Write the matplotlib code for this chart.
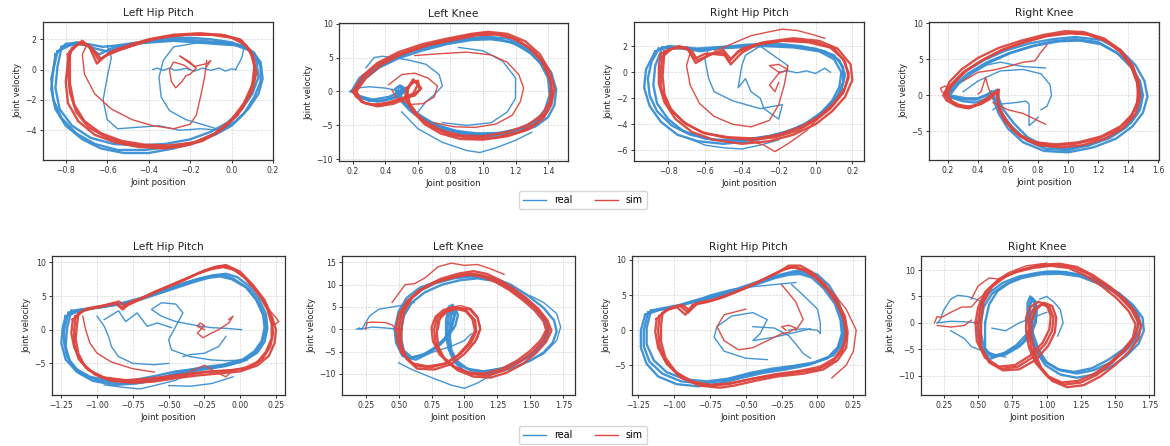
import matplotlib
matplotlib.use("Agg")
import matplotlib.pyplot as plt
from matplotlib.lines import Line2D
from matplotlib.ticker import MultipleLocator

# ---------------- data (position vs velocity) -------------
titles = ["Left Hip Pitch", "Left Knee", "Right Hip Pitch", "Right Knee",
          "Left Hip Pitch", "Left Knee", "Right Hip Pitch", "Right Knee"]
series_labels = ["real", "sim"]
x_label = "Joint position"
y_label = "Joint velocity"

# ---- Row 1, Left Hip Pitch
r1_lhp_real = [
    [(-0.84,1.2),(-0.78,1.6),(-0.70,1.7),(-0.62,1.5),(-0.55,1.6),(-0.45,1.8),(-0.35,1.9),(-0.25,2.0),(-0.15,1.9),(-0.05,1.8),(0.05,1.6),(0.11,1.1),(0.14,0.2),(0.14,-0.8),(0.11,-1.8),(0.06,-2.9),(0.0,-3.7),(-0.08,-4.3),(-0.18,-4.8),(-0.3,-5.1),(-0.42,-5.3),(-0.55,-5.3),(-0.66,-4.9),(-0.75,-4.2),(-0.82,-3.2),(-0.86,-2.0),(-0.87,-0.6),(-0.85,0.6),(-0.84,1.2)],
    [(-0.82,1.5),(-0.75,1.8),(-0.66,1.4),(-0.6,1.2),(-0.5,1.5),(-0.4,1.9),(-0.3,2.1),(-0.2,2.1),(-0.1,2.0),(0.0,1.8),(0.08,1.4),(0.12,0.6),(0.13,-0.5),(0.10,-1.6),(0.05,-2.6),(-0.02,-3.5),(-0.1,-4.1),(-0.2,-4.6),(-0.32,-4.9),(-0.45,-5.0),(-0.57,-4.9),(-0.68,-4.5),(-0.77,-3.7),(-0.83,-2.6),(-0.85,-1.2),(-0.84,0.2),(-0.82,1.5)],
    [(-0.85,1.0),(-0.8,1.7),(-0.72,1.8),(-0.64,1.0),(-0.58,1.4),(-0.48,1.7),(-0.38,1.8),(-0.28,1.9),(-0.18,1.8),(-0.08,1.7),(0.02,1.6),(0.1,1.2),(0.14,0.5),(0.15,-0.6),(0.13,-1.6),(0.08,-2.6),(0.02,-3.4),(-0.06,-4.1),(-0.16,-4.7),(-0.28,-5.2),(-0.4,-5.5),(-0.52,-5.5),(-0.63,-5.2),(-0.72,-4.6),(-0.8,-3.7),(-0.85,-2.6),(-0.87,-1.3),(-0.86,0.0),(-0.85,1.0)],
    [(-0.38,0.0),(-0.36,0.1),(-0.33,-0.05),(-0.3,0.1),(-0.27,-0.05),(-0.22,0.08),(-0.18,-0.1),(-0.14,0.1),(-0.1,-0.05),(-0.06,0.1),(-0.03,-0.1),(0.0,0.05),(0.02,0.0)],
    [(0.02,0.0),(0.05,0.8),(0.06,1.5),(0.0,1.7),(-0.15,1.8),(-0.28,1.5),(-0.33,0.6),(-0.35,-0.5),(-0.34,-1.8),(-0.3,-2.7),(-0.22,-3.3),(-0.12,-3.7),(-0.05,-4.0),(-0.15,-3.9),(-0.25,-4.0),(-0.35,-3.7),(-0.45,-3.8),(-0.55,-3.9),(-0.6,-3.3),(-0.62,-2.0),(-0.6,-0.5),(-0.58,0.8),(-0.6,1.6)],
]
r1_lhp_sim = [
    [(-0.78,1.2),(-0.73,1.8),(-0.68,1.5),(-0.64,0.6),(-0.6,1.0),(-0.52,1.4),(-0.42,1.9),(-0.3,2.2),(-0.18,2.35),(-0.05,2.3),(0.04,2.0),(0.09,1.3),(0.11,0.2),(0.1,-1.0),(0.06,-2.2),(0.0,-3.3),(-0.08,-4.2),(-0.18,-4.8),(-0.3,-5.0),(-0.42,-4.95),(-0.53,-4.7),(-0.63,-4.2),(-0.71,-3.4),(-0.76,-2.3),(-0.78,-0.9),(-0.78,0.3),(-0.78,1.2)],
    [(-0.77,1.4),(-0.72,1.9),(-0.66,1.2),(-0.63,0.7),(-0.58,1.2),(-0.5,1.6),(-0.4,2.0),(-0.28,2.3),(-0.15,2.4),(-0.03,2.25),(0.05,1.9),(0.1,1.0),(0.12,-0.2),(0.1,-1.4),(0.05,-2.6),(-0.02,-3.6),(-0.1,-4.4),(-0.2,-4.95),(-0.32,-5.2),(-0.45,-5.1),(-0.56,-4.8),(-0.66,-4.3),(-0.74,-3.4),(-0.79,-2.2),(-0.8,-0.8),(-0.79,0.5),(-0.77,1.4)],
    [(-0.79,1.0),(-0.74,1.7),(-0.69,1.6),(-0.65,0.4),(-0.61,0.9),(-0.54,1.3),(-0.45,1.7),(-0.35,2.1),(-0.22,2.3),(-0.1,2.3),(0.0,2.1),(0.07,1.6),(0.11,0.6),(0.11,-0.6),(0.08,-1.8),(0.03,-3.0),(-0.05,-4.0),(-0.14,-4.7),(-0.25,-5.1),(-0.38,-5.1),(-0.5,-4.9),(-0.6,-4.5),(-0.69,-3.8),(-0.75,-2.8),(-0.78,-1.5),(-0.79,-0.2),(-0.79,1.0)],
    [(-0.2,0.0),(-0.23,0.3),(-0.28,0.5),(-0.3,0.0),(-0.29,-0.8),(-0.27,-1.2),(-0.24,-0.8),(-0.22,-0.4),(-0.2,-0.3),(-0.17,0.1),(-0.2,0.5),(-0.25,0.9),(-0.22,0.6),(-0.18,0.2),(-0.12,0.4),(-0.1,0.6),(-0.12,0.2)],
    [(-0.12,0.6),(-0.13,-0.5),(-0.15,-1.8),(-0.17,-3.0),(-0.2,-3.6),(-0.28,-3.9),(-0.38,-3.7),(-0.48,-3.3),(-0.58,-2.6),(-0.66,-1.6),(-0.71,-0.3),(-0.72,1.0),(-0.7,1.6)],
]

# ---- Row 1, Left Knee
r1_lk_real = [
    [(0.2,0.0),(0.25,1.5),(0.32,3.0),(0.42,4.5),(0.55,5.8),(0.7,6.8),(0.85,7.5),(1.0,7.9),(1.1,7.7),(1.2,7.0),(1.3,5.5),(1.38,3.5),(1.42,1.0),(1.42,-1.5),(1.38,-3.5),(1.3,-5.0),(1.2,-5.8),(1.05,-6.3),(0.9,-6.2),(0.75,-5.3),(0.62,-3.8),(0.53,-2.2),(0.48,-0.8),(0.48,0.5),(0.5,0.8),(0.52,0.0),(0.45,-1.0),(0.35,-1.5),(0.25,-1.0),(0.2,0.0)],
    [(0.19,0.0),(0.24,2.0),(0.33,3.6),(0.45,5.0),(0.6,6.3),(0.75,7.2),(0.9,7.8),(1.02,8.1),(1.15,7.8),(1.25,6.8),(1.35,5.0),(1.42,2.8),(1.45,0.3),(1.44,-2.0),(1.4,-3.8),(1.32,-5.2),(1.2,-6.1),(1.05,-6.6),(0.9,-6.4),(0.75,-5.6),(0.63,-4.3),(0.55,-2.8),(0.5,-1.5),(0.47,-0.5),(0.46,0.4),(0.49,0.9),(0.51,0.2),(0.42,-0.8),(0.32,-1.2),(0.23,-0.6),(0.19,0.0)],
    [(0.21,0.0),(0.27,1.8),(0.36,3.5),(0.48,4.9),(0.62,6.0),(0.78,7.0),(0.93,7.6),(1.05,7.7),(1.17,7.3),(1.27,6.2),(1.35,4.3),(1.4,2.0),(1.41,-0.5),(1.38,-2.8),(1.32,-4.4),(1.22,-5.5),(1.1,-6.1),(0.97,-6.2),(0.83,-5.8),(0.7,-4.8),(0.6,-3.3),(0.52,-1.8),(0.49,-0.4),(0.5,0.6),(0.53,0.5),(0.5,-0.4),(0.4,-1.3),(0.3,-1.4),(0.24,-0.7),(0.21,0.0)],
    [(0.5,-3.0),(0.6,-5.5),(0.75,-7.5),(0.9,-8.7),(0.98,-9.0),(1.08,-8.3),(1.2,-7.2),(1.3,-6.0)],
    [(0.18,0.0),(0.22,0.5),(0.3,0.7),(0.4,0.5),(0.5,0.0)],
    [(0.28,3.5),(0.33,5.0),(0.38,5.2),(0.45,5.0),(0.55,4.6),(0.65,4.0),(0.73,2.5),(0.75,0.8),(0.7,-0.5),(0.65,-1.5),(0.6,-3.0)],
    [(0.85,6.5),(1.0,6.0),(1.12,4.5),(1.2,2.0),(1.2,-1.0),(1.15,-3.0),(1.05,-4.6),(0.9,-5.0),(0.75,-4.6)],
]
r1_lk_sim = [
    [(0.21,0.0),(0.25,1.8),(0.33,3.6),(0.45,5.2),(0.6,6.5),(0.75,7.5),(0.9,8.2),(1.0,8.6),(1.12,8.4),(1.22,7.5),(1.32,5.8),(1.39,3.5),(1.42,1.0),(1.41,-1.5),(1.36,-3.5),(1.27,-5.0),(1.15,-6.0),(1.0,-6.6),(0.87,-6.5),(0.75,-5.8),(0.63,-4.2),(0.56,-2.5),(0.52,-1.0),(0.53,0.5),(0.58,1.5),(0.62,0.5),(0.58,-0.6),(0.5,-1.0),(0.42,-1.6),(0.32,-2.0),(0.25,-1.5),(0.21,0.0)],
    [(0.2,0.0),(0.26,2.3),(0.35,4.2),(0.48,5.8),(0.63,7.0),(0.78,7.8),(0.93,8.5),(1.03,8.8),(1.15,8.5),(1.26,7.4),(1.35,5.5),(1.41,3.0),(1.44,0.5),(1.42,-2.0),(1.37,-4.0),(1.28,-5.6),(1.15,-6.6),(1.0,-7.1),(0.86,-7.0),(0.74,-6.2),(0.64,-4.8),(0.57,-3.0),(0.53,-1.2),(0.54,0.6),(0.57,1.8),(0.6,1.0),(0.57,-0.3),(0.48,-1.3),(0.38,-2.0),(0.28,-1.8),(0.22,-0.8),(0.2,0.0)],
    [(0.22,0.0),(0.28,2.0),(0.38,4.0),(0.5,5.5),(0.66,6.8),(0.82,7.6),(0.96,8.3),(1.08,8.4),(1.18,7.9),(1.28,6.5),(1.36,4.5),(1.41,2.0),(1.43,-0.5),(1.4,-2.8),(1.33,-4.7),(1.22,-6.0),(1.08,-6.8),(0.94,-6.9),(0.8,-6.4),(0.68,-5.2),(0.6,-3.5),(0.55,-1.8),(0.53,0.0),(0.56,1.3),(0.6,1.6),(0.61,0.2),(0.55,-0.8),(0.45,-1.8),(0.35,-2.2),(0.26,-1.6),(0.22,0.0)],
    [(0.58,5.3),(0.75,5.6),(0.9,5.8),(1.05,5.4),(1.15,4.3),(1.22,2.5),(1.25,0.5),(1.23,-1.5),(1.18,-3.5),(1.08,-4.8),(0.95,-5.3),(0.82,-5.2),(0.7,-4.6)],
    [(0.42,1.0),(0.5,2.5),(0.58,2.7),(0.66,2.0),(0.72,0.8),(0.7,-0.8),(0.63,-1.8),(0.55,-1.9),(0.47,-1.0),(0.44,0.2)],
]

# ---- Row 1, Right Hip Pitch
r1_rhp_real = [
    [(-0.85,1.8),(-0.75,1.9),(-0.65,1.8),(-0.55,1.9),(-0.45,2.0),(-0.3,2.1),(-0.15,2.0),(0.0,1.8),(0.1,1.3),(0.15,0.4),(0.15,-0.8),(0.12,-1.8),(0.06,-2.8),(-0.02,-3.7),(-0.12,-4.4),(-0.25,-4.9),(-0.4,-5.2),(-0.55,-5.2),(-0.68,-4.8),(-0.78,-4.1),(-0.86,-3.0),(-0.9,-1.8),(-0.91,-0.5),(-0.89,0.8),(-0.85,1.8)],
    [(-0.87,1.6),(-0.8,2.0),(-0.7,1.9),(-0.6,1.7),(-0.5,1.9),(-0.38,2.1),(-0.22,2.2),(-0.08,2.0),(0.05,1.6),(0.13,0.9),(0.16,-0.2),(0.14,-1.4),(0.09,-2.5),(0.02,-3.4),(-0.08,-4.2),(-0.2,-4.8),(-0.35,-5.3),(-0.5,-5.5),(-0.64,-5.3),(-0.75,-4.8),(-0.84,-3.8),(-0.9,-2.6),(-0.93,-1.2),(-0.92,0.2),(-0.87,1.6)],
    [(-0.83,1.9),(-0.72,1.8),(-0.62,1.6),(-0.55,1.8),(-0.42,1.9),(-0.28,2.0),(-0.12,1.9),(0.02,1.6),(0.1,1.0),(0.14,0.0),(0.13,-1.1),(0.09,-2.2),(0.03,-3.1),(-0.06,-4.0),(-0.18,-4.7),(-0.32,-5.1),(-0.46,-5.3),(-0.6,-5.1),(-0.72,-4.5),(-0.8,-3.6),(-0.86,-2.4),(-0.88,-1.0),(-0.87,0.5),(-0.83,1.9)],
    [(-0.7,-5.0),(-0.6,-5.6),(-0.5,-5.8),(-0.4,-5.9),(-0.3,-5.6),(-0.2,-5.2)],
    [(0.08,0.0),(0.05,0.3),(0.0,-0.1),(-0.05,0.1),(-0.1,-0.05),(-0.15,0.1),(-0.2,0.0)],
    [(-0.15,0.5),(-0.25,1.5),(-0.3,2.0),(-0.38,1.3),(-0.4,0.5),(-0.42,-1.2),(-0.38,-0.5),(-0.35,-1.5),(-0.3,-2.0),(-0.28,-2.8),(-0.2,-3.6),(-0.18,-2.5),(-0.3,-2.8),(-0.45,-2.2),(-0.55,-1.5),(-0.58,-0.5),(-0.6,1.0),(-0.58,1.8)],
]
r1_rhp_sim = [
    [(-0.83,1.2),(-0.78,1.8),(-0.7,1.9),(-0.66,1.0),(-0.6,1.4),(-0.5,1.5),(-0.47,0.8),(-0.42,1.6),(-0.3,2.2),(-0.15,2.5),(0.0,2.3),(0.1,1.8),(0.16,0.8),(0.18,-0.4),(0.15,-1.6),(0.08,-2.8),(0.0,-3.7),(-0.1,-4.5),(-0.22,-5.0),(-0.35,-5.2),(-0.5,-5.0),(-0.62,-4.6),(-0.72,-3.8),(-0.8,-2.6),(-0.84,-1.2),(-0.84,0.2),(-0.83,1.2)],
    [(-0.84,1.4),(-0.76,1.9),(-0.69,1.8),(-0.65,0.7),(-0.58,1.3),(-0.5,1.7),(-0.46,1.0),(-0.4,1.8),(-0.28,2.3),(-0.12,2.6),(0.02,2.4),(0.12,1.8),(0.19,0.6),(0.2,-0.6),(0.16,-1.9),(0.09,-3.0),(0.0,-4.0),(-0.12,-4.8),(-0.25,-5.3),(-0.4,-5.5),(-0.55,-5.2),(-0.67,-4.6),(-0.76,-3.6),(-0.82,-2.3),(-0.85,-0.9),(-0.85,0.5),(-0.84,1.4)],
    [(-0.82,1.6),(-0.74,2.0),(-0.67,1.6),(-0.64,0.9),(-0.56,1.4),(-0.49,1.3),(-0.46,0.6),(-0.4,1.5),(-0.32,2.1),(-0.18,2.4),(-0.04,2.3),(0.08,1.9),(0.15,1.0),(0.18,-0.1),(0.16,-1.2),(0.1,-2.4),(0.02,-3.4),(-0.08,-4.2),(-0.2,-4.8),(-0.32,-5.1),(-0.47,-5.0),(-0.6,-4.7),(-0.7,-4.0),(-0.78,-3.0),(-0.82,-1.7),(-0.83,-0.3),(-0.82,1.6)],
    [(-0.55,1.6),(-0.45,2.2),(-0.35,2.8),(-0.25,3.1),(-0.18,3.3),(-0.1,3.2),(-0.02,2.9),(0.05,2.6)],
    [(0.05,-3.0),(-0.05,-4.5),(-0.15,-5.5),(-0.22,-6.1),(-0.28,-5.6),(-0.35,-5.3)],
    [(-0.2,0.0),(-0.25,0.5),(-0.2,0.6),(-0.15,0.2),(-0.2,-0.1),(-0.25,-1.0),(-0.22,-1.5),(-0.2,-0.8)],
    [(-0.15,0.5),(-0.17,-1.0),(-0.2,-2.5),(-0.25,-3.7),(-0.35,-4.2),(-0.45,-4.0),(-0.55,-3.4),(-0.63,-2.4),(-0.68,-1.0),(-0.7,0.5),(-0.68,1.5)],
]

# ---- Row 1, Right Knee
r1_rk_real = [
    [(0.2,0.0),(0.25,1.5),(0.33,3.0),(0.45,4.5),(0.6,5.8),(0.75,6.8),(0.9,7.5),(1.05,7.8),(1.2,7.4),(1.32,6.0),(1.42,4.0),(1.48,2.0),(1.5,0.0),(1.48,-2.0),(1.42,-3.8),(1.3,-5.5),(1.15,-6.8),(1.0,-7.6),(0.85,-7.4),(0.72,-6.2),(0.62,-4.2),(0.55,-2.3),(0.52,-0.8),(0.5,0.3),(0.45,-0.5),(0.38,-1.0),(0.3,-0.8),(0.22,-0.3),(0.2,0.0)],
    [(0.19,0.0),(0.24,1.8),(0.32,3.4),(0.44,4.9),(0.58,6.2),(0.74,7.2),(0.9,7.8),(1.05,8.1),(1.22,7.7),(1.35,6.3),(1.45,4.2),(1.51,2.0),(1.53,-0.2),(1.5,-2.4),(1.43,-4.3),(1.32,-6.0),(1.17,-7.2),(1.0,-7.9),(0.84,-7.7),(0.7,-6.5),(0.6,-4.6),(0.54,-2.6),(0.51,-1.0),(0.49,0.6),(0.46,0.0),(0.38,-0.6),(0.28,-0.5),(0.21,-0.2),(0.19,0.0)],
    [(0.21,0.0),(0.27,1.6),(0.36,3.1),(0.48,4.6),(0.62,5.9),(0.78,6.9),(0.94,7.5),(1.08,7.6),(1.22,7.1),(1.34,5.7),(1.43,3.7),(1.48,1.5),(1.49,-0.6),(1.46,-2.6),(1.39,-4.4),(1.28,-5.9),(1.13,-7.0),(0.98,-7.4),(0.84,-7.0),(0.73,-5.8),(0.64,-3.9),(0.57,-2.0),(0.54,-0.5),(0.53,0.8),(0.48,0.3),(0.4,-0.4),(0.32,-0.4),(0.24,-0.1),(0.21,0.0)],
    [(0.3,0.5),(0.4,2.0),(0.55,3.4),(0.7,3.6),(0.82,3.0),(0.88,1.5),(0.89,0.0),(0.86,-1.5),(0.82,-2.0)],
    [(0.5,-2.0),(0.55,-1.2),(0.65,-1.0),(0.72,-0.8),(0.74,-1.2),(0.74,-4.2),(0.78,-3.5),(0.8,-3.0)],
    [(0.35,3.0),(0.45,4.2),(0.55,4.6),(0.7,4.0),(0.85,3.8)],
]
r1_rk_sim = [
    [(0.18,0.3),(0.22,1.5),(0.3,3.2),(0.42,4.8),(0.55,6.2),(0.7,7.3),(0.85,8.2),(1.0,8.6),(1.12,8.5),(1.25,7.6),(1.35,6.0),(1.42,4.0),(1.46,1.8),(1.47,-0.5),(1.43,-2.6),(1.35,-4.3),(1.22,-5.7),(1.07,-6.5),(0.92,-6.8),(0.78,-6.5),(0.66,-5.3),(0.58,-3.6),(0.54,-2.0),(0.53,-0.5),(0.52,0.5),(0.48,-0.5),(0.42,-1.2),(0.35,-1.6),(0.27,-1.3),(0.2,-0.5),(0.18,0.3)],
    [(0.17,0.0),(0.21,1.9),(0.29,3.6),(0.4,5.2),(0.54,6.6),(0.69,7.6),(0.84,8.4),(0.98,8.9),(1.1,8.8),(1.24,7.9),(1.35,6.3),(1.43,4.2),(1.47,2.0),(1.48,-0.3),(1.45,-2.6),(1.37,-4.5),(1.25,-6.0),(1.1,-6.9),(0.95,-7.2),(0.8,-6.9),(0.68,-5.7),(0.6,-3.8),(0.55,-2.1),(0.53,-0.6),(0.54,0.8),(0.5,0.2),(0.43,-1.0),(0.34,-1.8),(0.26,-1.5),(0.19,-0.7),(0.17,0.0)],
    [(0.19,0.5),(0.24,1.7),(0.32,3.4),(0.44,5.0),(0.57,6.4),(0.72,7.5),(0.87,8.3),(1.02,8.7),(1.15,8.4),(1.27,7.4),(1.37,5.7),(1.44,3.6),(1.47,1.2),(1.46,-1.2),(1.41,-3.3),(1.32,-4.9),(1.19,-6.1),(1.03,-6.8),(0.88,-6.9),(0.74,-6.3),(0.63,-4.8),(0.57,-3.0),(0.54,-1.4),(0.53,0.1),(0.51,0.4),(0.46,-0.4),(0.39,-1.3),(0.31,-1.7),(0.23,-1.1),(0.19,0.5)],
    [(0.2,0.0),(0.16,0.5),(0.15,1.0),(0.18,1.3),(0.22,0.8),(0.2,0.0)],
    [(0.3,2.0),(0.4,3.2),(0.5,3.5),(0.6,4.0),(0.7,4.6),(0.78,4.8),(0.82,6.0),(0.86,7.0)],
    [(0.4,0.2),(0.42,0.5),(0.45,2.5),(0.47,1.0),(0.5,-0.5)],
    [(0.5,-1.0),(0.6,-2.0),(0.7,-2.5),(0.8,-3.5),(0.85,-4.0)],
]

# ---- Row 2, Left Hip Pitch
r2_lhp_real = [
    [(-1.2,2.5),(-1.1,3.0),(-1.0,3.3),(-0.9,3.6),(-0.8,4.0),(-0.7,4.6),(-0.6,5.3),(-0.5,6.0),(-0.4,6.8),(-0.3,7.5),(-0.2,8.0),(-0.12,8.1),(-0.05,7.6),(0.05,6.2),(0.12,4.3),(0.17,2.0),(0.18,0.0),(0.15,-2.0),(0.1,-3.5),(0.0,-4.8),(-0.15,-5.5),(-0.3,-5.8),(-0.45,-6.2),(-0.6,-6.9),(-0.75,-7.5),(-0.9,-7.6),(-1.05,-7.0),(-1.15,-5.8),(-1.21,-4.0),(-1.23,-2.0),(-1.23,0.0),(-1.2,2.5)],
    [(-1.22,2.0),(-1.12,2.8),(-1.02,3.2),(-0.92,3.5),(-0.82,3.8),(-0.72,4.3),(-0.62,5.0),(-0.52,5.7),(-0.42,6.4),(-0.32,7.1),(-0.22,7.7),(-0.14,7.9),(-0.06,7.5),(0.04,6.3),(0.11,4.5),(0.16,2.2),(0.17,0.3),(0.15,-1.7),(0.1,-3.2),(0.02,-4.4),(-0.12,-5.2),(-0.27,-5.6),(-0.42,-6.3),(-0.58,-7.3),(-0.73,-8.0),(-0.88,-8.2),(-1.03,-7.6),(-1.14,-6.3),(-1.22,-4.4),(-1.25,-2.0),(-1.24,0.3),(-1.22,2.0)],
    [(-1.18,2.8),(-1.08,3.1),(-0.98,3.3),(-0.88,3.7),(-0.78,4.2),(-0.68,4.8),(-0.58,5.5),(-0.48,6.3),(-0.38,7.0),(-0.28,7.6),(-0.18,8.1),(-0.1,8.3),(-0.02,7.8),(0.06,6.5),(0.13,4.6),(0.18,2.3),(0.19,0.2),(0.17,-1.8),(0.12,-3.4),(0.03,-4.6),(-0.1,-5.4),(-0.25,-5.9),(-0.4,-6.4),(-0.55,-7.3),(-0.7,-7.9),(-0.85,-8.0),(-1.0,-7.5),(-1.12,-6.4),(-1.19,-4.7),(-1.22,-2.5),(-1.21,0.2),(-1.18,2.8)],
    [(-0.3,-6.0),(-0.45,-7.5),(-0.6,-8.3),(-0.7,-8.8),(-0.8,-8.6),(-0.95,-8.2)],
    [(-0.05,-7.0),(-0.2,-8.0),(-0.35,-8.4),(-0.5,-8.3)],
    [(0.01,0.0),(-0.1,0.2),(-0.2,0.3),(-0.3,0.6),(-0.45,1.2),(-0.55,2.0),(-0.62,3.0),(-0.55,4.0),(-0.45,3.8),(-0.4,2.5),(-0.45,0.5),(-0.5,-1.5),(-0.48,-3.0),(-0.35,-4.0),(-0.2,-4.5),(-0.1,-4.6),(0.05,-4.5)],
    [(-0.1,-1.0),(-0.15,-2.5),(-0.25,-3.5),(-0.35,-3.7),(-0.4,-4.0)],
    [(-1.0,2.0),(-0.95,0.5),(-0.92,-1.0),(-0.9,-2.5),(-0.85,-4.0),(-0.75,-5.0),(-0.6,-5.2),(-0.5,-5.0)],
    [(-0.95,1.5),(-0.85,2.8),(-0.8,1.2),(-0.72,2.5),(-0.65,0.5),(-0.58,1.0),(-0.48,0.3)],
]
r2_lhp_sim = [
    [(-1.15,2.0),(-1.08,3.0),(-1.0,3.4),(-0.9,3.8),(-0.85,4.2),(-0.8,3.5),(-0.75,4.0),(-0.65,5.0),(-0.55,6.0),(-0.45,6.8),(-0.35,7.8),(-0.25,8.8),(-0.15,9.4),(-0.07,9.2),(0.02,8.0),(0.1,6.0),(0.18,3.8),(0.22,1.5),(0.23,-0.5),(0.21,-2.5),(0.16,-4.2),(0.08,-5.5),(-0.05,-6.0),(-0.2,-6.2),(-0.35,-6.5),(-0.5,-6.9),(-0.65,-7.3),(-0.8,-7.5),(-0.95,-7.1),(-1.06,-6.0),(-1.13,-4.3),(-1.16,-2.2),(-1.16,0.0),(-1.15,2.0)],
    [(-1.17,1.5),(-1.1,2.8),(-1.02,3.2),(-0.93,3.6),(-0.87,3.9),(-0.82,3.0),(-0.78,3.8),(-0.68,4.7),(-0.58,5.7),(-0.48,6.6),(-0.38,7.5),(-0.28,8.5),(-0.18,9.3),(-0.1,9.6),(0.0,8.6),(0.09,6.6),(0.17,4.4),(0.22,2.0),(0.25,0.0),(0.24,-2.0),(0.2,-3.9),(0.12,-5.3),(0.0,-6.2),(-0.15,-6.5),(-0.3,-6.8),(-0.45,-7.2),(-0.6,-7.7),(-0.75,-7.9),(-0.9,-7.6),(-1.02,-6.6),(-1.11,-4.8),(-1.16,-2.6),(-1.18,-0.5),(-1.17,1.5)],
    [(-1.13,2.4),(-1.06,3.2),(-0.97,3.5),(-0.88,4.0),(-0.83,3.3),(-0.77,4.1),(-0.7,4.6),(-0.6,5.6),(-0.5,6.5),(-0.4,7.4),(-0.3,8.3),(-0.2,9.0),(-0.12,9.3),(-0.04,8.9),(0.05,7.4),(0.13,5.3),(0.19,3.0),(0.22,0.8),(0.22,-1.3),(0.18,-3.3),(0.12,-4.8),(0.02,-5.8),(-0.1,-6.1),(-0.25,-6.3),(-0.4,-6.8),(-0.55,-7.3),(-0.7,-7.6),(-0.85,-7.6),(-0.98,-7.0),(-1.08,-5.6),(-1.13,-3.6),(-1.15,-1.4),(-1.14,0.8),(-1.13,2.4)],
    [(-0.25,0.0),(-0.3,0.5),(-0.28,1.0),(-0.25,0.6),(-0.3,-0.5),(-0.26,-1.2),(-0.2,-0.5),(-0.15,0.0),(-0.08,1.0),(-0.05,2.0),(-0.08,1.5)],
    [(-1.1,2.0),(-1.08,0.0),(-1.05,-2.0),(-1.0,-3.5),(-0.9,-4.8),(-0.75,-5.8),(-0.6,-6.3)],
    [(-0.35,-6.2),(-0.25,-5.3),(-0.15,-6.5),(-0.1,-7.0),(-0.05,-6.0)],
    [(0.2,3.0),(0.25,1.8),(0.27,1.2),(0.22,0.5)],
]

# ---- Row 2, Left Knee
r2_lk_real = [
    [(0.5,0.0),(0.52,3.5),(0.57,6.3),(0.66,8.6),(0.78,10.3),(0.92,11.4),(1.05,11.8),(1.18,11.4),(1.3,10.0),(1.42,7.8),(1.52,5.2),(1.6,2.5),(1.63,0.0),(1.6,-2.5),(1.53,-5.0),(1.43,-7.0),(1.3,-8.6),(1.17,-9.5),(1.05,-9.2),(0.95,-7.8),(0.9,-5.5),(0.88,-3.0),(0.87,0.0),(0.88,3.0),(0.9,4.5),(0.92,3.0),(0.9,0.5),(0.85,-2.0),(0.78,-4.0),(0.68,-5.8),(0.58,-6.5),(0.52,-4.5),(0.5,-2.0),(0.5,0.0)],
    [(0.47,0.0),(0.5,4.0),(0.56,7.0),(0.66,9.3),(0.8,10.8),(0.95,11.8),(1.08,12.1),(1.22,11.5),(1.35,10.0),(1.48,7.6),(1.6,4.8),(1.68,2.0),(1.7,-0.5),(1.67,-3.0),(1.6,-5.2),(1.5,-7.0),(1.38,-8.5),(1.25,-9.6),(1.12,-10.2),(1.0,-9.4),(0.92,-7.2),(0.88,-4.5),(0.86,-1.5),(0.86,2.0),(0.88,5.0),(0.91,5.5),(0.93,3.5),(0.9,0.0),(0.83,-3.0),(0.74,-5.2),(0.63,-6.8),(0.53,-6.0),(0.48,-3.0),(0.47,0.0)],
    [(0.52,0.0),(0.54,3.0),(0.6,6.0),(0.7,8.3),(0.83,10.0),(0.97,11.0),(1.1,11.4),(1.23,10.8),(1.35,9.2),(1.46,7.0),(1.55,4.4),(1.62,1.8),(1.64,-0.8),(1.6,-3.3),(1.52,-5.6),(1.41,-7.4),(1.28,-8.8),(1.14,-9.4),(1.02,-8.8),(0.94,-7.0),(0.9,-4.6),(0.89,-2.0),(0.89,1.0),(0.9,3.5),(0.93,4.8),(0.95,3.2),(0.93,0.8),(0.87,-1.8),(0.8,-3.8),(0.7,-5.5),(0.6,-6.3),(0.54,-4.8),(0.52,-2.2),(0.52,0.0)],
    [(1.5,7.5),(1.6,6.0),(1.7,3.5),(1.73,0.5),(1.7,-2.5),(1.6,-5.5),(1.5,-7.0)],
    [(1.25,-9.5),(1.1,-12.0),(1.0,-13.2),(0.9,-12.5),(0.75,-10.8),(0.6,-9.0),(0.5,-7.5)],
    [(0.18,0.0),(0.2,0.3),(0.22,0.0),(0.28,3.0),(0.35,4.5),(0.45,5.0),(0.55,5.5),(0.62,6.0)],
    [(0.2,0.0),(0.3,0.5),(0.4,0.3),(0.5,0.0)],
    [(0.6,-6.5),(0.75,-5.2),(0.9,-3.8),(1.0,-2.5),(1.05,-1.0)],
]
r2_lk_sim = [
    [(0.5,0.0),(0.52,3.5),(0.58,6.5),(0.68,9.0),(0.8,10.8),(0.95,12.0),(1.05,12.5),(1.15,12.0),(1.25,10.8),(1.35,9.0),(1.45,6.8),(1.55,4.5),(1.62,2.0),(1.64,0.0),(1.6,-2.5),(1.52,-5.0),(1.42,-7.3),(1.3,-9.2),(1.18,-10.3),(1.05,-10.0),(0.93,-8.5),(0.83,-6.0),(0.78,-3.0),(0.77,0.0),(0.79,2.5),(0.85,4.0),(0.93,4.6),(1.02,4.0),(1.08,2.0),(1.09,-0.5),(1.05,-3.0),(0.97,-5.5),(0.87,-7.5),(0.75,-8.5),(0.63,-8.2),(0.55,-6.0),(0.51,-3.0),(0.5,0.0)],
    [(0.52,0.0),(0.54,3.8),(0.6,7.0),(0.7,9.5),(0.82,11.3),(0.96,12.5),(1.07,13.0),(1.17,12.4),(1.27,11.0),(1.37,9.2),(1.47,7.0),(1.56,4.6),(1.63,2.0),(1.66,-0.3),(1.62,-2.8),(1.54,-5.4),(1.44,-7.8),(1.32,-9.7),(1.2,-10.8),(1.07,-10.6),(0.95,-9.2),(0.85,-6.8),(0.8,-3.8),(0.79,-0.8),(0.8,2.0),(0.86,3.8),(0.95,4.8),(1.04,4.5),(1.1,2.5),(1.12,0.0),(1.08,-2.8),(1.0,-5.5),(0.9,-7.8),(0.77,-9.0),(0.64,-8.8),(0.56,-6.6),(0.52,-3.5),(0.52,0.0)],
    [(0.48,0.0),(0.5,3.2),(0.56,6.2),(0.66,8.8),(0.78,10.5),(0.93,11.7),(1.04,12.2),(1.14,11.7),(1.24,10.5),(1.34,8.8),(1.44,6.6),(1.53,4.3),(1.6,1.8),(1.62,-0.2),(1.58,-2.4),(1.5,-4.8),(1.4,-7.0),(1.28,-8.9),(1.15,-9.9),(1.03,-9.7),(0.91,-8.2),(0.81,-5.6),(0.76,-2.6),(0.75,0.4),(0.78,2.8),(0.84,4.3),(0.92,5.0),(1.0,4.4),(1.06,2.3),(1.08,-0.3),(1.03,-3.2),(0.95,-5.8),(0.85,-7.7),(0.72,-8.3),(0.6,-7.6),(0.52,-5.2),(0.49,-2.5),(0.48,0.0)],
    [(0.25,0.0),(0.26,1.5),(0.3,1.6),(0.4,1.5),(0.45,1.0),(0.48,0.0)],
    [(0.45,6.0),(0.55,10.0),(0.62,10.2),(0.7,11.5),(0.8,14.0),(0.9,14.8),(1.0,14.3),(1.1,14.5),(1.2,13.5),(1.3,12.3)],
    [(0.8,0.0),(0.82,3.0),(0.88,4.8),(0.97,5.3),(1.05,4.6),(1.1,2.8),(1.12,0.5),(1.1,-2.0),(1.02,-4.8)],
]

# ---- Row 2, Right Hip Pitch
r2_rhp_real = [
    [(-1.18,2.5),(-1.08,3.0),(-0.98,3.4),(-0.88,4.0),(-0.78,4.5),(-0.68,5.0),(-0.58,5.5),(-0.48,6.2),(-0.38,7.0),(-0.28,7.7),(-0.18,8.2),(-0.1,8.2),(-0.02,7.6),(0.06,6.0),(0.13,4.0),(0.17,1.8),(0.18,-0.3),(0.15,-2.3),(0.08,-3.8),(-0.05,-4.8),(-0.2,-5.3),(-0.35,-5.8),(-0.5,-6.4),(-0.65,-7.2),(-0.8,-7.6),(-0.95,-7.3),(-1.08,-6.2),(-1.17,-4.5),(-1.21,-2.3),(-1.21,0.0),(-1.18,2.5)],
    [(-1.2,2.2),(-1.1,2.9),(-1.0,3.2),(-0.9,3.8),(-0.8,4.3),(-0.7,4.8),(-0.6,5.3),(-0.5,6.0),(-0.4,6.7),(-0.3,7.4),(-0.2,7.9),(-0.12,8.0),(-0.04,7.5),(0.04,6.0),(0.12,3.8),(0.16,1.5),(0.17,-0.5),(0.14,-2.5),(0.07,-4.0),(-0.07,-5.0),(-0.22,-5.6),(-0.38,-6.1),(-0.53,-6.8),(-0.68,-7.6),(-0.83,-8.0),(-0.98,-7.7),(-1.11,-6.6),(-1.19,-4.8),(-1.23,-2.5),(-1.23,0.0),(-1.2,2.2)],
    [(-1.16,2.8),(-1.06,3.2),(-0.96,3.6),(-0.86,4.2),(-0.76,4.8),(-0.66,5.3),(-0.56,5.9),(-0.46,6.6),(-0.36,7.3),(-0.26,7.9),(-0.16,8.4),(-0.08,8.5),(0.0,7.9),(0.08,6.4),(0.14,4.4),(0.18,2.1),(0.19,-0.1),(0.17,-2.1),(0.11,-3.6),(-0.02,-4.6),(-0.17,-5.1),(-0.32,-5.5),(-0.47,-6.1),(-0.62,-6.9),(-0.77,-7.3),(-0.92,-7.0),(-1.05,-6.0),(-1.14,-4.3),(-1.19,-2.0),(-1.19,0.3),(-1.16,2.8)],
    [(-0.85,4.0),(-0.75,5.0),(-0.6,5.8),(-0.45,6.2),(-0.3,6.5),(-0.15,6.8)],
    [(-0.18,6.5),(-0.1,5.0),(0.0,3.0),(0.02,1.0),(0.02,-0.5),(0.0,0.0),(-0.1,0.2),(-0.2,0.0)],
    [(-0.05,0.2),(-0.3,-1.0),(-0.45,-1.5),(-0.4,-0.5),(-0.35,1.5),(-0.45,2.5),(-0.6,2.0),(-0.7,0.5),(-0.72,-1.0),(-0.65,-3.0),(-0.5,-4.0),(-0.35,-4.2)],
    [(-0.45,0.5),(-0.3,0.3),(-0.2,-0.8),(-0.15,-2.0),(-0.1,-3.3),(-0.05,-4.0)],
]
r2_rhp_sim = [
    [(-1.1,2.0),(-1.04,3.0),(-0.96,3.5),(-0.9,2.5),(-0.85,3.8),(-0.75,4.2),(-0.65,4.8),(-0.55,5.6),(-0.45,6.5),(-0.35,7.5),(-0.25,8.5),(-0.18,9.0),(-0.1,8.6),(-0.02,7.6),(0.06,6.0),(0.13,4.0),(0.18,1.8),(0.2,-0.3),(0.18,-2.3),(0.12,-4.0),(0.02,-5.2),(-0.12,-5.8),(-0.3,-6.3),(-0.45,-6.9),(-0.6,-7.6),(-0.72,-7.9),(-0.85,-7.5),(-0.97,-6.3),(-1.06,-4.4),(-1.1,-2.2),(-1.11,0.0),(-1.1,2.0)],
    [(-1.12,1.6),(-1.06,2.8),(-0.98,3.3),(-0.92,2.2),(-0.87,3.6),(-0.77,4.0),(-0.67,4.6),(-0.57,5.4),(-0.47,6.3),(-0.37,7.3),(-0.27,8.3),(-0.2,9.2),(-0.12,9.2),(-0.04,8.3),(0.05,6.6),(0.13,4.4),(0.19,2.0),(0.21,-0.3),(0.2,-2.5),(0.14,-4.3),(0.04,-5.6),(-0.1,-6.2),(-0.28,-6.6),(-0.43,-7.2),(-0.58,-7.9),(-0.68,-8.2),(-0.82,-7.9),(-0.95,-6.8),(-1.05,-4.8),(-1.11,-2.5),(-1.13,-0.2),(-1.12,1.6)],
    [(-1.08,2.4),(-1.02,3.2),(-0.94,3.6),(-0.89,2.8),(-0.83,3.9),(-0.73,4.3),(-0.63,5.0),(-0.53,5.8),(-0.43,6.7),(-0.33,7.7),(-0.23,8.7),(-0.16,9.0),(-0.08,8.5),(0.0,7.3),(0.08,5.6),(0.15,3.5),(0.19,1.2),(0.2,-1.0),(0.17,-3.0),(0.1,-4.6),(0.0,-5.6),(-0.15,-6.0),(-0.32,-6.5),(-0.47,-7.0),(-0.62,-7.6),(-0.75,-7.8),(-0.88,-7.3),(-0.99,-5.9),(-1.06,-3.9),(-1.09,-1.6),(-1.09,0.6),(-1.08,2.4)],
    [(-0.22,0.0),(-0.25,0.5),(-0.2,0.7),(-0.15,0.3),(-0.2,-0.3),(-0.25,-0.5),(-0.3,-1.0),(-0.45,-2.5),(-0.55,-2.8),(-0.65,-1.5),(-0.7,0.5),(-0.65,2.2),(-0.5,3.0)],
    [(-0.25,6.5),(-0.15,4.0),(-0.1,1.5),(-0.15,0.0)],
    [(0.1,5.5),(0.2,3.0),(0.27,0.0),(0.25,-3.0),(0.2,-5.0),(0.1,-6.8)],
]

# ---- Row 2, Right Knee
r2_rk_real = [
    [(0.52,0.0),(0.54,3.0),(0.6,5.5),(0.7,7.3),(0.82,8.5),(0.96,9.2),(1.1,9.3),(1.24,8.8),(1.37,7.5),(1.5,5.8),(1.6,3.8),(1.67,1.5),(1.69,-0.8),(1.65,-3.2),(1.57,-5.5),(1.46,-7.6),(1.34,-9.0),(1.22,-9.6),(1.1,-9.0),(1.0,-7.5),(0.94,-5.0),(0.9,-2.0),(0.88,1.0),(0.88,3.5),(0.9,4.5),(0.93,3.0),(0.92,0.0),(0.88,-2.5),(0.8,-4.5),(0.7,-6.0),(0.6,-6.5),(0.54,-4.5),(0.52,-2.0),(0.52,0.0)],
    [(0.55,0.0),(0.58,3.5),(0.64,6.0),(0.74,7.8),(0.86,9.0),(1.0,9.7),(1.14,9.6),(1.28,8.9),(1.41,7.5),(1.53,5.6),(1.63,3.4),(1.7,1.0),(1.71,-1.5),(1.67,-4.0),(1.58,-6.3),(1.47,-8.3),(1.35,-9.8),(1.22,-10.4),(1.1,-9.8),(0.99,-8.0),(0.92,-5.3),(0.88,-2.3),(0.86,0.8),(0.86,3.8),(0.88,5.0),(0.91,3.8),(0.9,0.8),(0.86,-2.0),(0.78,-4.2),(0.68,-5.9),(0.58,-6.9),(0.55,-4.8),(0.55,-2.0),(0.55,0.0)],
    [(0.5,0.0),(0.52,3.2),(0.58,5.7),(0.68,7.6),(0.8,8.8),(0.94,9.5),(1.08,9.7),(1.22,9.2),(1.35,8.0),(1.48,6.2),(1.58,4.0),(1.65,1.8),(1.67,-0.5),(1.64,-2.8),(1.56,-5.0),(1.45,-7.0),(1.33,-8.6),(1.2,-9.3),(1.08,-8.8),(0.98,-7.2),(0.92,-4.8),(0.89,-2.0),(0.87,0.5),(0.87,3.0),(0.89,4.8),(0.92,4.0),(0.92,1.0),(0.89,-1.5),(0.82,-3.8),(0.72,-5.5),(0.62,-6.2),(0.53,-5.0),(0.5,-2.5),(0.5,0.0)],
    [(0.2,0.0),(0.22,0.5),(0.25,2.5),(0.3,4.5),(0.35,5.2),(0.42,5.0),(0.48,4.5),(0.53,4.0)],
    [(0.2,0.0),(0.3,0.3),(0.4,0.2),(0.5,0.0)],
    [(0.3,-1.5),(0.4,-3.0),(0.45,-4.5),(0.55,-5.5),(0.7,-6.5)],
    [(0.95,4.5),(1.0,5.0),(1.05,4.0),(1.1,2.5),(1.12,0.0),(1.08,-2.5)],
    [(0.6,-1.0),(0.7,-1.5),(0.8,0.0),(0.9,1.0),(1.0,2.0)],
]
r2_rk_sim = [
    [(0.5,0.0),(0.52,3.5),(0.57,6.3),(0.66,8.4),(0.78,9.8),(0.92,10.7),(1.05,11.0),(1.18,10.6),(1.3,9.3),(1.42,7.3),(1.53,5.0),(1.62,2.5),(1.67,0.0),(1.65,-2.5),(1.58,-5.0),(1.48,-7.5),(1.37,-9.8),(1.25,-11.3),(1.13,-11.7),(1.02,-10.5),(0.94,-8.0),(0.89,-5.0),(0.87,-2.0),(0.87,0.5),(0.9,2.5),(0.96,3.5),(1.02,3.0),(1.05,1.0),(1.04,-1.5),(0.99,-4.0),(0.9,-6.5),(0.79,-8.3),(0.67,-8.7),(0.57,-7.0),(0.51,-4.0),(0.5,0.0)],
    [(0.52,0.5),(0.54,4.0),(0.6,6.8),(0.7,8.8),(0.82,10.1),(0.96,11.0),(1.09,11.2),(1.22,10.6),(1.34,9.0),(1.46,6.9),(1.57,4.5),(1.65,2.0),(1.69,-0.5),(1.67,-3.0),(1.6,-5.5),(1.5,-8.0),(1.39,-10.2),(1.27,-11.8),(1.15,-12.2),(1.04,-11.0),(0.96,-8.5),(0.91,-5.5),(0.89,-2.5),(0.89,0.3),(0.92,2.5),(0.98,3.8),(1.04,3.2),(1.07,1.0),(1.06,-1.8),(1.01,-4.4),(0.92,-7.0),(0.8,-8.8),(0.68,-9.0),(0.58,-7.5),(0.52,-4.5),(0.52,0.5)],
    [(0.48,0.0),(0.5,3.0),(0.55,5.8),(0.64,8.0),(0.76,9.5),(0.9,10.4),(1.03,10.8),(1.16,10.4),(1.28,9.0),(1.4,7.0),(1.51,4.7),(1.6,2.2),(1.65,-0.3),(1.63,-2.8),(1.56,-5.2),(1.46,-7.6),(1.35,-9.6),(1.23,-11.0),(1.11,-11.3),(1.0,-10.0),(0.92,-7.6),(0.87,-4.6),(0.85,-1.6),(0.85,1.0),(0.88,3.0),(0.94,4.0),(1.0,3.4),(1.03,1.3),(1.02,-1.2),(0.97,-3.8),(0.88,-6.2),(0.77,-8.0),(0.65,-8.3),(0.55,-6.6),(0.49,-3.5),(0.48,0.0)],
    [(0.18,0.0),(0.2,1.2),(0.23,1.0),(0.3,2.0),(0.38,3.0),(0.45,3.0),(0.5,4.5),(0.55,5.5)],
    [(0.2,-0.5),(0.3,-0.8),(0.4,-0.5),(0.45,0.5)],
    [(0.45,4.5),(0.5,7.0),(0.58,8.5),(0.65,8.3),(0.72,9.5),(0.85,10.8),(1.0,11.3)],
]

real_series = [r1_lhp_real, r1_lk_real, r1_rhp_real, r1_rk_real,
               r2_lhp_real, r2_lk_real, r2_rhp_real, r2_rk_real]
sim_series = [r1_lhp_sim, r1_lk_sim, r1_rhp_sim, r1_rk_sim,
              r2_lhp_sim, r2_lk_sim, r2_rhp_sim, r2_rk_sim]

# ---------------- layout / style ---------------
W, H = 1170, 446
BLUE = "#3a8fd3"
RED = "#dc463f"

xlims = [(-0.91, 0.2), (0.114, 1.523), (-0.985, 0.263), (0.073, 1.607),
         (-1.315, 0.313), (0.07, 1.839), (-1.292, 0.331), (0.082, 1.784)]
ylims = [(-5.96, 3.14), (-10.25, 10.1), (-6.82, 3.85), (-8.96, 10.18),
         (-9.7, 10.94), (-14.7, 16.4), (-9.24, 10.57), (-13.67, 12.66)]
xsteps = [0.2, 0.2, 0.2, 0.2, 0.25, 0.25, 0.25, 0.25]
ysteps = [2, 5, 2, 5, 5, 5, 5, 5]
# axes boxes in pixels: left, right, top, bottom
boxes = [(43, 273, 22, 160), (339, 568, 23, 161), (634, 864, 22, 161), (929, 1159, 22, 160),
         (52, 285, 256, 395), (342, 575, 256, 395), (632, 865, 256, 395), (921, 1154, 256, 395)]

fig = plt.figure(figsize=(W / 100, H / 100), dpi=100)

for i in range(8):
    l, r, t, b = boxes[i]
    ax = fig.add_axes([l / W, 1 - b / H, (r - l) / W, (b - t) / H])
    for series, color in ((real_series[i], BLUE), (sim_series[i], RED)):
        for k, path in enumerate(series):
            xs = [p[0] for p in path]
            ys = [p[1] for p in path]
            ax.plot(xs, ys, color=color, lw=1.7 if k < 3 else 1.0, alpha=0.95,
                    solid_joinstyle="round")
    ax.set_xlim(*xlims[i])
    ax.set_ylim(*ylims[i])
    ax.xaxis.set_major_locator(MultipleLocator(xsteps[i]))
    ax.yaxis.set_major_locator(MultipleLocator(ysteps[i]))
    ax.set_title(titles[i], fontsize=7.7, color="#222222", pad=4)
    ax.set_xlabel(x_label, fontsize=6.1, color="#222222", labelpad=2)
    ax.set_ylabel(y_label, fontsize=6.1, color="#222222", labelpad=2)
    ax.tick_params(labelsize=5.6, length=2.5, width=0.7, pad=2, colors="#333333")
    ax.grid(True, linestyle="--", linewidth=0.5, color="#cccccc", alpha=0.8)
    ax.set_axisbelow(True)
    for s in ax.spines.values():
        s.set_color("#333333")
        s.set_linewidth(0.9)

handles = [Line2D([], [], color=BLUE, lw=1.0), Line2D([], [], color=RED, lw=1.0)]
for yc in (1 - 200 / H, 1 - 435 / H):
    fig.legend(handles, series_labels, loc="center", bbox_to_anchor=(583 / W, yc),
               ncol=2, fontsize=6.9, handlelength=2.4, columnspacing=2.4,
               frameon=True, borderpad=0.4, handletextpad=0.8)

fig.savefig("out.png", dpi=100)
